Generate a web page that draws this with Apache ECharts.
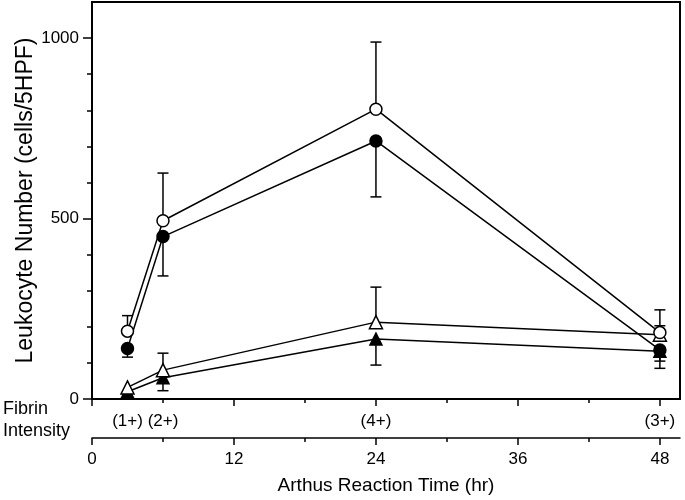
<!DOCTYPE html>
<html>
<head>
<meta charset="utf-8">
<script src="https://cdn.jsdelivr.net/npm/echarts@6/dist/echarts.min.js"></script>
<style>html,body{margin:0;padding:0;background:#fff}#c{width:685px;height:500px}</style>
</head>
<body>
<div id="c"></div>
<script>
// ---- data ----
var times = [3, 6, 24, 48];
var openCircle = [188, 494, 803, 184];
var openCircleErrHigh = [231, 626, 989, 247];
var filledCircle = [140, 450, 715, 136];
var filledCircleErrLow = [116, 341, 560, 85];
var openTriangle = [32, 80, 213, 178];
var openTriangleErrHigh = [null, 127, 310, 203];
var filledTriangle = [20, 59, 166, 132];
var filledTriangleErrLow = [null, 23, 94, 105];
var fibrinTimes = [3, 6, 24, 48];
var fibrinLabels = ['(1+)', '(2+)', '(4+)', '(3+)'];
var xMajorTicks = [0, 12, 24, 36, 48];
var xMinorTicks = [6, 18, 30, 42];
var yLabelTicks = [0, 500, 1000];
var yMinorTicks = [0, 100, 200, 300, 400, 500, 600, 700, 800, 900, 1000];

var FONT = '"Liberation Sans", Arial, Helvetica, sans-serif';

function pairs(ys) { return times.map(function (t, i) { return [t, ys[i]]; }); }
function errData(means, ends) {
  var out = [];
  times.forEach(function (t, i) { if (ends[i] != null) out.push([t, means[i], ends[i]]); });
  return out;
}
function errSeries(means, ends) {
  return {
    type: 'custom', xAxisIndex: 0, yAxisIndex: 0, z: 1,
    data: errData(means, ends),
    renderItem: function (params, api) {
      var p0 = api.coord([api.value(0), api.value(1)]);
      var p1 = api.coord([api.value(0), api.value(2)]);
      var w = 5.5;
      return {
        type: 'group',
        children: [
          { type: 'line', shape: { x1: p0[0], y1: p0[1], x2: p1[0], y2: p1[1] }, style: { stroke: '#000', lineWidth: 1.5 } },
          { type: 'line', shape: { x1: p1[0] - w, y1: p1[1], x2: p1[0] + w, y2: p1[1] }, style: { stroke: '#000', lineWidth: 1.5 } }
        ]
      };
    }
  };
}
function lineSeries(ys, symbol, fill, size) {
  return {
    type: 'line', xAxisIndex: 0, yAxisIndex: 0, z: 3,
    data: pairs(ys), symbol: symbol, symbolSize: size,
    lineStyle: { color: '#000', width: 1.5 },
    itemStyle: { color: fill, borderColor: '#000', borderWidth: 1.5 },
    emphasis: { disabled: true }, animation: false
  };
}
function plain(v) { return String(v); }

var xBase = { type: 'value', min: 0, max: 49.7, interval: 6, splitLine: { show: false } };
var chart = echarts.init(document.getElementById('c'));
chart.setOption({
  animation: false,
  grid: { left: 92, right: 5, top: 2, bottom: 101, show: true, borderColor: '#000', borderWidth: 2 },
  xAxis: [
    Object.assign({}, xBase, {
      position: 'bottom',
      axisLine: { show: true, lineStyle: { color: '#000', width: 2 } },
      axisTick: { show: true, customValues: xMajorTicks, length: 7, lineStyle: { color: '#000', width: 1.5 } },
      axisLabel: {
        show: true, customValues: fibrinTimes, margin: 14, color: '#000', fontSize: 17, fontFamily: FONT,
        formatter: function (v) { var i = fibrinTimes.indexOf(v); return i >= 0 ? fibrinLabels[i] : ''; }
      }
    }),
    Object.assign({}, xBase, {
      position: 'bottom',
      axisLine: { show: false },
      axisTick: { show: true, customValues: xMinorTicks, length: 4, lineStyle: { color: '#000', width: 1.5 } },
      axisLabel: { show: false }
    }),
    Object.assign({}, xBase, {
      position: 'bottom', offset: 39,
      axisLine: { show: true, lineStyle: { color: '#000', width: 1.5 } },
      axisTick: { show: true, customValues: xMajorTicks, length: 7, lineStyle: { color: '#000', width: 1.5 } },
      axisLabel: { show: true, customValues: xMajorTicks, margin: 13, color: '#000', fontSize: 17, fontFamily: FONT, formatter: plain },
      name: 'Arthus Reaction Time (hr)', nameLocation: 'middle', nameGap: 38,
      nameTextStyle: { color: '#000', fontSize: 19, fontFamily: FONT }
    }),
    Object.assign({}, xBase, {
      position: 'bottom', offset: 39,
      axisLine: { show: false },
      axisTick: { show: true, customValues: xMinorTicks, length: 4, lineStyle: { color: '#000', width: 1.5 } },
      axisLabel: { show: false }
    })
  ],
  yAxis: [
    {
      type: 'value', min: 0, max: 1100, interval: 100, position: 'left',
      splitLine: { show: false },
      axisLine: { show: true, lineStyle: { color: '#000', width: 2 } },
      axisTick: { show: true, customValues: yMinorTicks, length: 5, lineStyle: { color: '#000', width: 1.5 } },
      axisLabel: { show: true, customValues: yLabelTicks, margin: 13, color: '#000', fontSize: 17, fontFamily: FONT, formatter: plain },
      name: 'Leukocyte Number (cells/5HPF)', nameLocation: 'middle', nameGap: 55, nameMoveOverlap: false,
      nameTextStyle: { color: '#000', fontSize: 23, fontFamily: FONT }
    },
    {
      type: 'value', min: 0, max: 1100, interval: 100, position: 'left',
      splitLine: { show: false },
      axisLine: { show: false },
      axisTick: { show: true, customValues: yLabelTicks, length: 9, lineStyle: { color: '#000', width: 1.5 } },
      axisLabel: { show: false }
    }
  ],
  graphic: [
    { type: 'text', left: 3, top: 400, style: { text: 'Fibrin', font: '18px ' + FONT, fill: '#000' } },
    { type: 'text', left: 3, top: 422, style: { text: 'Intensity', font: '18px ' + FONT, fill: '#000' } }
  ],
  series: [
    errSeries(openCircle, openCircleErrHigh),
    errSeries(filledCircle, filledCircleErrLow),
    errSeries(openTriangle, openTriangleErrHigh),
    errSeries(filledTriangle, filledTriangleErrLow),
    lineSeries(filledTriangle, 'triangle', '#000', 12),
    lineSeries(openTriangle, 'triangle', '#fff', 13),
    lineSeries(filledCircle, 'circle', '#000', 12),
    lineSeries(openCircle, 'circle', '#fff', 12)
  ]
});
</script>
</body>
</html>
